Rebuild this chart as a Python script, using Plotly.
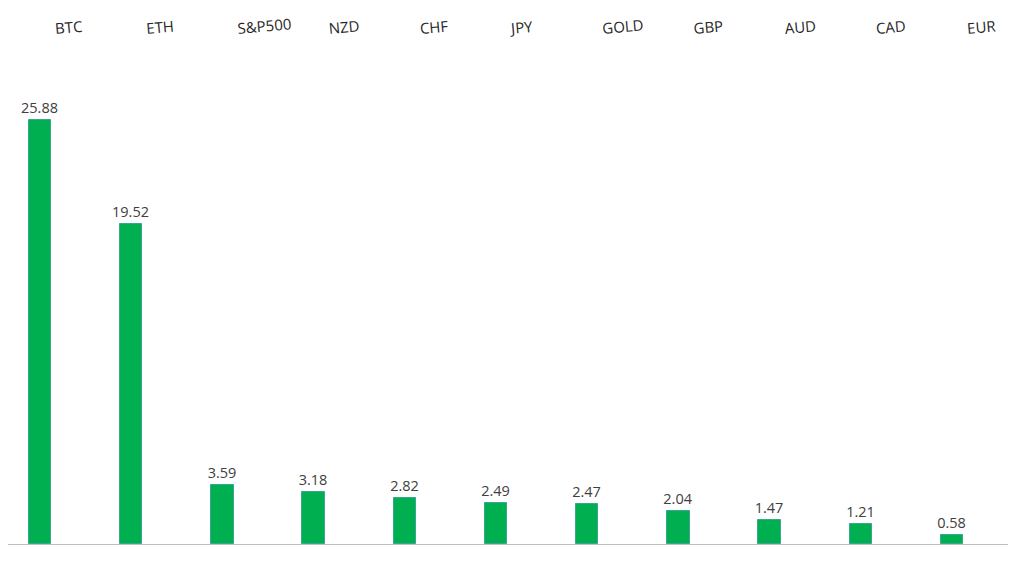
import plotly.graph_objects as go

categories = ["BTC", "ETH", "S&P500", "NZD", "CHF", "JPY", "GOLD", "GBP", "AUD", "CAD", "EUR"]
values = [25.88, 19.52, 3.59, 3.18, 2.82, 2.49, 2.47, 2.04, 1.47, 1.21, 0.58]

idx = list(range(len(categories)))

fig = go.Figure()
fig.add_trace(go.Bar(
    x=idx, y=values, width=0.245,
    marker=dict(color="#00B050", line=dict(color="#3AA590", width=1)),
    text=[f"{v:.2f}" for v in values], textposition="outside",
    constraintext="none",
    textfont=dict(family="Open Sans", size=14.5, color="#404040"),
    cliponaxis=False, hoverinfo="x+y",
))
# invisible trace to carry the top category axis
fig.add_trace(go.Scatter(x=idx, y=values, xaxis="x2", mode="markers",
                         marker=dict(opacity=0), hoverinfo="skip", showlegend=False))

x0, x1 = -0.351, 10.614
shift = 0.164
fig.update_layout(
    width=1016, height=554,
    margin=dict(l=0, r=16, t=30, b=18),
    paper_bgcolor="white", plot_bgcolor="white",
    showlegend=False,
    bargap=0,
    xaxis=dict(range=[x0, x1], showticklabels=False, showgrid=False, zeroline=False,
               showline=True, linecolor="#BFBFBF", linewidth=1, ticks=""),
    xaxis2=dict(range=[x0 - shift, x1 - shift], overlaying="x", side="top", anchor="y",
                tickvals=idx, ticktext=categories, tickangle=-5, showgrid=False,
                zeroline=False, showline=False, ticks="",
                tickfont=dict(family="Open Sans", size=15, color="#262626")),
    yaxis=dict(range=[0, 30.89], visible=False, showgrid=False, zeroline=False),
)

fig.write_html("out.html")
